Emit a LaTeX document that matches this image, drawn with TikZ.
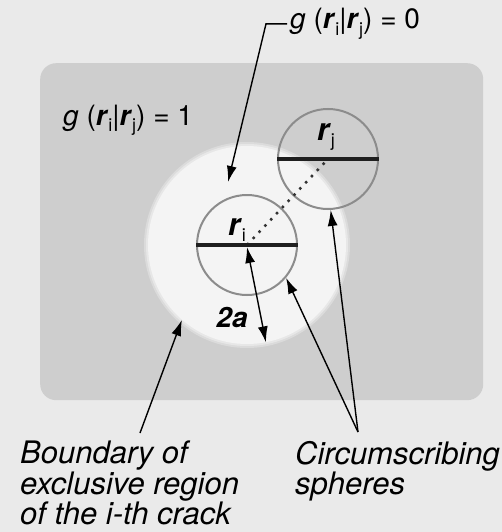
\documentclass[tikz,border=0pt]{standalone}
\usepackage{fontspec}
\setmainfont{TeX Gyre Heros}
\usetikzlibrary{arrows.meta}
\definecolor{bggray}{RGB}{234,234,234}
\definecolor{rectgray}{RGB}{206,206,206}
\definecolor{discwhite}{RGB}{244,244,244}
\definecolor{rimgray}{RGB}{140,140,140}
\newcommand\rv{\textbf{\textit{r}}}
\newcommand\sbx[1]{\raisebox{-0.22em}{\fontsize{18}{18}\selectfont #1}}
\begin{document}
\begin{tikzpicture}[x=1pt,y=-1pt,
 lbl/.style={inner sep=0pt, font=\fontsize{28}{28}\selectfont},
 captext/.style={inner sep=0pt, align=left, font=\fontsize{31}{27.5}\selectfont\itshape},
 sphere/.style={circle, draw=rimgray, line width=2pt, minimum size=100pt, inner sep=0pt},
 crack/.style={line width=4pt, draw=black!88},
 pointer/.style={line width=1.4pt, -{Latex[length=16pt,width=10pt]}},
 dpointer/.style={line width=1.4pt, {Latex[length=16pt,width=10pt]}-{Latex[length=16pt,width=10pt]}},
]
\fill[bggray] (0,0) rectangle (502,532);
\useasboundingbox (0,0) rectangle (502,532);
\node[fill=rectgray, rounded corners=16pt, minimum width=443pt, minimum height=337pt, anchor=north west, inner sep=0pt] (box) at (40,63) {};
% exclusive region (soft edge)
\fill[discwhite,opacity=0.35] (247,245) circle (103);
\fill[discwhite,opacity=0.5] (247,245) circle (101);
\node[circle, fill=discwhite, minimum size=198pt, inner sep=0pt] (wr) at (247,245) {};
% spheres
\node[sphere] (ci) at (247,245) {};
\node[sphere] (cj) at (328,159) {};
\draw[line width=2.5pt, dash pattern=on 2.5pt off 6pt, black!80] (ci.center) -- (cj.center);
\draw[crack] (ci.west) -- (ci.east);
\draw[crack] (cj.west) -- (cj.east);
\node[lbl, font=\fontsize{31}{31}\selectfont, anchor=base] (ri) at (237,235) {\rv\sbx{i}};
\node[lbl, font=\fontsize{31}{31}\selectfont, anchor=base] (rj) at (326,140) {\rv\sbx{j}};
% labels
\node[lbl, anchor=base west] (g0) at (290,29) {\textit{g} (\rv\sbx{i}|\rv\sbx{j}) = 0};
\node[lbl, anchor=base west] (g1) at (63,125) {\textit{g} (\rv\sbx{i}|\rv\sbx{j}) = 1};
\node[lbl, anchor=base, font=\fontsize{28}{28}\selectfont\bfseries\itshape] (twoa) at (232,327) {2a};
\coordinate (g0tip) at (228,182);
\draw[pointer] ([xshift=-3pt]g0.west) -- ++(-21,0) -- (g0tip);
\draw[dpointer] ([yshift=-2pt]ci.center) -- (wr.-79);
% captions
\node[captext, anchor=north west] (bd) at (20,441) {Boundary of\\exclusive region\\of the i-th crack};
\node[captext, anchor=north west] (cs) at (295,441) {Circumscribing\\spheres};
\coordinate (bdfoot) at (140,433);
\coordinate (csfoot) at (358,432);
\draw[pointer] (bdfoot) -- (wr.-131);
\draw[pointer] (csfoot) -- (ci.-40);
\draw[pointer] (csfoot) -- (cj.-87);
\end{tikzpicture}
\end{document}
